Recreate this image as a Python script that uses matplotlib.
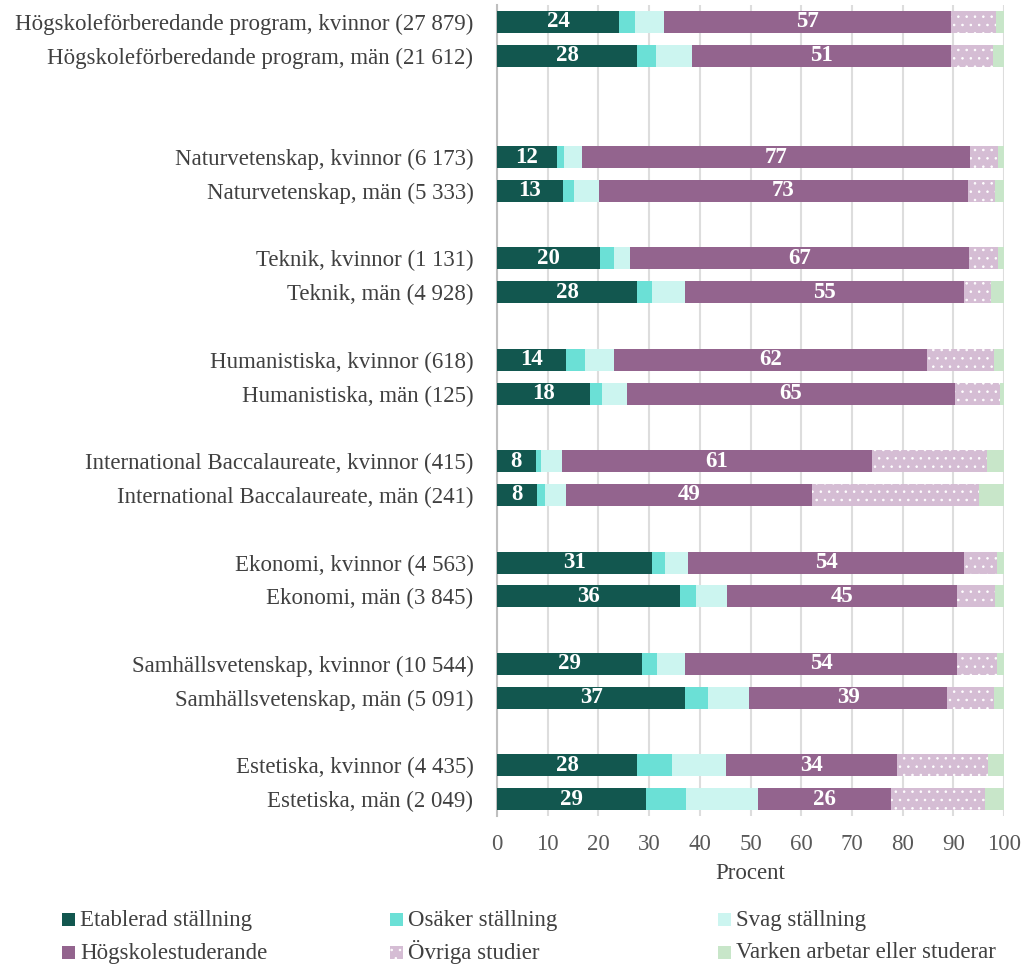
import matplotlib.pyplot as plt
import matplotlib.patches as mpatches
import numpy as np

plt.rcParams['font.family'] = ['Liberation Serif', 'DejaVu Serif']
plt.rcParams['hatch.color'] = 'white'
plt.rcParams['hatch.linewidth'] = 0.6

categories = [
    'Högskoleförberedande program, kvinnor (27 879)',
    'Högskoleförberedande program, män (21 612)',
    'Naturvetenskap, kvinnor (6 173)',
    'Naturvetenskap, män (5 333)',
    'Teknik, kvinnor (1 131)',
    'Teknik, män (4 928)',
    'Humanistiska, kvinnor (618)',
    'Humanistiska, män (125)',
    'International Baccalaureate, kvinnor (415)',
    'International Baccalaureate, män (241)',
    'Ekonomi, kvinnor (4 563)',
    'Ekonomi, män (3 845)',
    'Samhällsvetenskap, kvinnor (10 544)',
    'Samhällsvetenskap, män (5 091)',
    'Estetiska, kvinnor (4 435)',
    'Estetiska, män (2 049)',
]

etablerad = [24.1, 27.6, 11.8, 13.0, 20.3, 27.6, 13.6, 18.3, 7.6, 7.8, 30.6, 36.0, 28.6, 37.1, 27.7, 29.3]
osaker = [3.1, 3.8, 1.4, 2.2, 2.7, 3.0, 3.8, 2.4, 1.1, 1.7, 2.6, 3.3, 3.0, 4.5, 6.8, 7.9]
svag = [5.7, 7.1, 3.5, 4.9, 3.3, 6.5, 5.7, 4.9, 4.1, 4.1, 4.5, 6.0, 5.5, 8.1, 10.7, 14.3]
hogskola = [56.6, 51.1, 76.6, 72.8, 66.7, 55.1, 61.8, 64.8, 61.2, 48.6, 54.4, 45.4, 53.6, 39.1, 33.6, 26.2]
ovriga = [9.0, 8.2, 5.5, 5.3, 5.8, 5.2, 13.1, 8.8, 22.6, 32.8, 6.5, 7.5, 7.9, 9.2, 18.1, 18.5]
varken = [1.5, 2.2, 1.2, 1.8, 1.2, 2.6, 2.0, 0.8, 3.4, 5.0, 1.4, 1.8, 1.4, 2.0, 3.1, 3.8]

series_names = ['Etablerad ställning', 'Osäker ställning', 'Svag ställning',
                'Högskolestuderande', 'Övriga studier', 'Varken arbetar eller studerar']
colors = ['#12574F', '#6BE0D6', '#CCF5F0', '#93648E', '#D5BDD4', '#C8E6C9']
hatches = [None, None, None, None, '..', None]
labelled = [True, False, False, True, False, False]

# row positions: pairs, with an extra blank row after the first pair
pos = []
y = 0
for i in range(len(categories) // 2):
    pos += [y, y + 1]
    y += 4 if i == 0 else 3
pos = np.array(pos)

fig = plt.figure(figsize=(10.26, 9.66), dpi=100)
ax = fig.add_axes([497 / 1026, 1 - 816 / 966, 507 / 1026, 811 / 966])

data = [etablerad, osaker, svag, hogskola, ovriga, varken]
left = np.zeros(len(categories))
for vals, name, col, h, lab in zip(data, series_names, colors, hatches, labelled):
    vals = np.array(vals)
    bars = ax.barh(pos, vals, left=left, height=0.65, color=col, hatch=h,
                   edgecolor='white' if h else col, linewidth=0, label=name, zorder=3)
    if lab:
        for b, v in zip(bars, vals):
            ax.text(b.get_x() + b.get_width() / 2, b.get_y() + b.get_height() / 2,
                    f'{round(v)}', ha='center', va='center', color='white',
                    fontsize=16.5, fontweight='bold', zorder=4)
    left += vals

ax.set_xlim(0, 100)
ax.set_ylim(23.5, -0.5)
ax.set_xticks(range(0, 101, 10))
ax.set_yticks(pos)
ax.set_yticklabels(categories)
ax.xaxis.grid(True, color='#DDDDDD', linewidth=1.5, zorder=0)
ax.set_axisbelow(True)
for s in ['top', 'right', 'bottom']:
    ax.spines[s].set_visible(False)
ax.spines['left'].set_color('#BFBFBF')
ax.spines['left'].set_linewidth(1.5)
ax.tick_params(axis='both', length=0, labelsize=16.5, colors='#404040')
ax.tick_params(axis='y', pad=17)
ax.tick_params(axis='x', pad=13, colors='#595959')
ax.set_xlabel('Procent', fontsize=16.5, color='#404040', labelpad=6)

# legend drawn by hand: 2 rows x 3 columns, rows aligned on a common baseline
W, H = 1026, 966
col_x = [62, 390, 718]
row_base = [926, 958.5]
for k, (name, col, h) in enumerate(zip(series_names, colors, hatches)):
    x0 = col_x[k % 3]
    yb = row_base[k // 3]
    fig.patches.append(mpatches.Rectangle((x0 / W, 1 - yb / H), 12.7 / W, 12.7 / H,
                                          transform=fig.transFigure, facecolor=col,
                                          hatch=h, edgecolor='white' if h else col,
                                          linewidth=0))
    fig.text((x0 + 18.5) / W, 1 - yb / H, name, fontsize=16.5, color='#404040',
             ha='left', va='baseline')

fig.savefig('out.png', dpi=100)
